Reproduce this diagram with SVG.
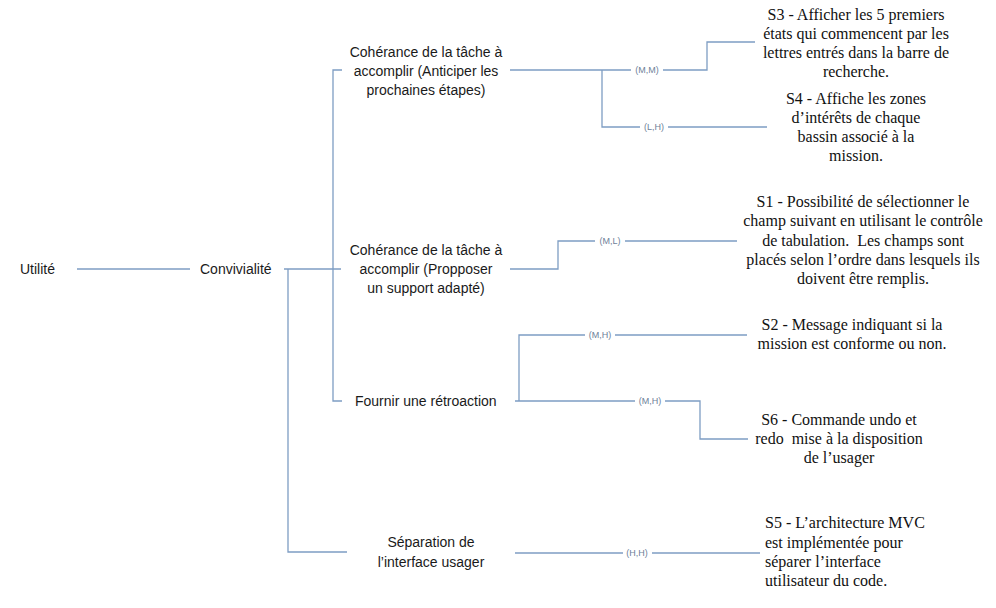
<svg xmlns="http://www.w3.org/2000/svg" width="996" height="608" viewBox="0 0 996 608">
<style>
.n{font-family:"Liberation Sans",Arial,sans-serif;font-size:14px;fill:#1a1a1a}
.s{font-family:"Liberation Serif","Times New Roman",serif;font-size:16px;fill:#111;white-space:pre}
.c{fill:none;stroke:#7e9dc3;stroke-width:1.3}
.l{font-family:"Liberation Sans",Arial,sans-serif;font-size:9px;fill:#6e8199;text-anchor:middle}
.bg{fill:#fff}
</style>
<rect width="996" height="608" fill="#fff"/>
<g id="connectors">
<path class="c" d="M77 269H190"/>
<path class="c" d="M284 269H341"/>
<path class="c" d="M288 269V552H347"/>
<path class="c" d="M342 70H333V401H342"/>
<path class="c" d="M510 70H707V42H755"/>
<path class="c" d="M602 70V127H767"/>
<path class="c" d="M510 269H558V241H737"/>
<path class="c" d="M515 401H700V439H748"/>
<path class="c" d="M519 401V335H747"/>
<path class="c" d="M515 553H760"/>
<rect class="bg" x="631" y="64" width="32" height="12"/><text class="l" x="647" y="73">(M,M)</text>
<rect class="bg" x="640" y="121" width="28" height="12"/><text class="l" x="654" y="130">(L,H)</text>
<rect class="bg" x="595" y="235" width="30" height="12"/><text class="l" x="610" y="244">(M,L)</text>
<rect class="bg" x="585" y="329" width="30" height="12"/><text class="l" x="600" y="338">(M,H)</text>
<rect class="bg" x="635" y="395" width="30" height="12"/><text class="l" x="650" y="404">(M,H)</text>
<rect class="bg" x="623" y="547" width="29" height="12"/><text class="l" x="637" y="556">(H,H)</text>
</g>
<g id="utilite"><text class="n" x="20" y="274">Utilité</text></g>
<g id="convivialite"><text class="n" x="200" y="274">Convivialité</text></g>
<g id="coherance1"><text class="n" text-anchor="middle"><tspan x="426" y="57">Cohérance de la tâche à</tspan><tspan x="426" y="76">accomplir (Anticiper les</tspan><tspan x="426" y="95">prochaines étapes)</tspan></text></g>
<g id="coherance2"><text class="n" text-anchor="middle"><tspan x="426" y="255">Cohérance de la tâche à</tspan><tspan x="426" y="274">accomplir (Propposer</tspan><tspan x="426" y="293">un support adapté)</tspan></text></g>
<g id="retroaction"><text class="n" x="355" y="406">Fournir une rétroaction</text></g>
<g id="separation"><text class="n" text-anchor="middle"><tspan x="431" y="547">Séparation de</tspan><tspan x="431" y="567">l’interface usager</tspan></text></g>
<g id="s3"><text class="s" text-anchor="middle"><tspan x="856" y="20">S3 - Afficher les 5 premiers</tspan><tspan x="856" y="39">états qui commencent par les</tspan><tspan x="856" y="58">lettres entrés dans la barre de</tspan><tspan x="856" y="77">recherche.</tspan></text></g>
<g id="s4"><text class="s" text-anchor="middle"><tspan x="856" y="104">S4 - Affiche les zones</tspan><tspan x="856" y="123">d’intérêts de chaque</tspan><tspan x="856" y="142">bassin associé à la</tspan><tspan x="856" y="161">mission.</tspan></text></g>
<g id="s1"><text class="s" text-anchor="middle"><tspan x="863" y="207">S1 - Possibilité de sélectionner le</tspan><tspan x="863" y="226">champ suivant en utilisant le contrôle</tspan><tspan x="863" y="246">de tabulation.  Les champs sont</tspan><tspan x="863" y="265">placés selon l’ordre dans lesquels ils</tspan><tspan x="863" y="284">doivent être remplis.</tspan></text></g>
<g id="s2"><text class="s" text-anchor="middle"><tspan x="852" y="330">S2 - Message indiquant si la</tspan><tspan x="852" y="349">mission est conforme ou non.</tspan></text></g>
<g id="s6"><text class="s" text-anchor="middle"><tspan x="839" y="425">S6 - Commande undo et</tspan><tspan x="839" y="444">redo  mise à la disposition</tspan><tspan x="839" y="463">de l’usager</tspan></text></g>
<g id="s5"><text class="s"><tspan x="765" y="528">S5 - L’architecture MVC</tspan><tspan x="765" y="548">est implémentée pour</tspan><tspan x="765" y="567">séparer l’interface</tspan><tspan x="765" y="586">utilisateur du code.</tspan></text></g>
</svg>
